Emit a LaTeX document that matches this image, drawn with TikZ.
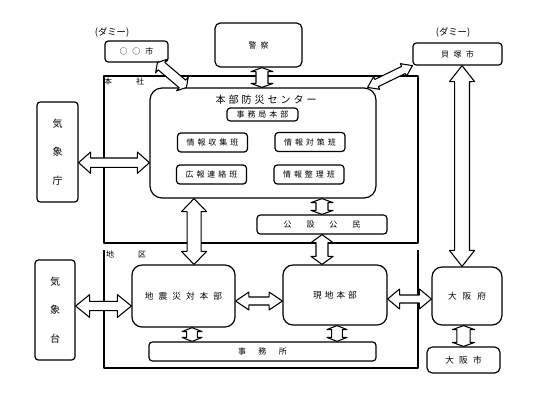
\documentclass[tikz,border=0pt]{standalone}
\usepackage{fontspec}
\setmainfont{Noto Sans CJK JP}
\usetikzlibrary{calc}

\newcommand{\sz}[2]{\fontsize{#1}{#1}\selectfont\addfontfeature{LetterSpace=#2}}
% hollow double arrow: from, to, shaft half width, head half width, head length (pt)
\newcommand{\fatarrow}[5]{%
    \coordinate (fa1) at (#1);
    \coordinate (fa2) at (#2);
    \draw[fatline] let \p1=($(fa2)-(fa1)$), \n1={atan2(\y1,\x1)}, \n2={veclen(\x1,\y1)} in
        [shift={(fa1)},rotate=\n1]
        (0pt,0pt) -- (#5pt,#4pt) -- (#5pt,#3pt) -- ({\n2-#5pt},#3pt) -- ({\n2-#5pt},#4pt)
        -- ({\n2-0pt},0pt) -- ({\n2-#5pt},-#4pt) -- ({\n2-#5pt},-#3pt) -- (#5pt,-#3pt)
        -- (#5pt,-#4pt) -- cycle;
}

\begin{document}
\begin{tikzpicture}[x=0.75pt,y=-0.75pt,line join=round]
    \tikzstyle{box}=[draw,fill=white,line width=0.9pt,rounded corners=2.5pt,inner sep=0pt]
    \tikzstyle{bigbox}=[box,rounded corners=7.5pt]
    \tikzstyle{frame}=[draw,line width=1.2pt]
    \tikzstyle{fatline}=[draw,fill=white,line width=0.8pt]
    \tikzset{wh/.style 2 args={minimum width=#1*0.75pt,minimum height=#2*0.75pt}}
    \useasboundingbox (0,0) rectangle (534,401);

    % frames
    \draw[frame] (104,76) rectangle (418,243);
    \draw[frame] (104,250) -- (104,368) -- (418,368) -- (418,250);
    \node[font=\sz{6}{0}] (honsha) at (124,81) {本\hspace{18pt}社};
    \node[font=\sz{6}{0}] (chiku) at (126,254) {地\hspace{18pt}区};

    % outside
    \node[font=\sz{7}{0}] (dummy1) at (112,32) {(ダミー)};
    \node[font=\sz{7}{0}] (dummy2) at (453,32) {(ダミー)};
    \node[box,wh={63}{21},font=\sz{6}{60}] (shi1) at (136.5,51.5) {○○市};
    \node[box,wh={87}{44},rounded corners=4pt,font=\sz{6}{50}] (keisatsu) at (258.5,45) {警察};
    \node[box,wh={89}{22},font=\sz{6}{55}] (shi2) at (457.5,54) {貝塚市};
    \node[box,wh={41}{100},align=center,font=\fontsize{7.5}{21.4}\selectfont] (kishocho) at (57.5,152) {気\\象\\庁};
    \node[box,wh={40}{100},align=center,font=\fontsize{7.5}{21.4}\selectfont] (kishodai) at (55,310) {気\\象\\台};

    % center
    \node[bigbox,wh={226}{110},rounded corners=9pt] (center) at (263,143) {};
    \node[font=\sz{7.5}{30}] (title) at (266,100) {本部防災センター};
    \node[box,wh={71}{13},font=\sz{6}{37}] (jimu) at (262.5,114.5) {事務局本部};
    \foreach \n/\x/\y/\t in {in1/212.5/142.5/情報収集班, in2/310/142/情報対策班,
                             in3/211.5/174.5/広報連絡班, in4/309/174.5/情報整理班} {
        \node[box,wh={70}{19},font=\sz{6}{37}] (\n) at (\x,\y) {\t};
    };
    \node[box,wh={130}{19},font=\sz{6}{187}] (tsushin) at (322,224.5) {公設公民};

    % lower
    \node[bigbox,wh={103}{62},font=\sz{6.5}{58}] (honbu) at (183.5,296) {地震災対本部};
    \node[bigbox,wh={104}{60},font=\sz{6.5}{35}] (genchi) at (335,295) {現地本部};
    \node[box,wh={227}{19},font=\sz{6}{156}] (jimusho) at (262.5,351.5) {事務所};
    \node[bigbox,wh={70}{58},font=\sz{6.5}{69}] (fu) at (467,296) {大阪府};
    \node[box,wh={73}{26},rounded corners=4pt,font=\sz{6.5}{60}] (shi3) at (463.5,360) {大阪市};

    % arrows
    \fatarrow{$(kishocho.east)+(0pt,-8pt)$}{$(kishocho.east -| center.west)+(0pt,-8pt)$}{3.5}{8}{9}
    \fatarrow{$(honbu.west -| kishodai.east)+(0pt,-7.5pt)$}{$(honbu.west)+(0pt,-7.5pt)$}{3.5}{8.5}{10.5}
    \fatarrow{$(honbu.east)+(0pt,-3.75pt)$}{$(honbu.east -| genchi.west)+(0pt,-3.75pt)$}{3}{6.75}{10}
    \fatarrow{$(genchi.east)+(0pt,-3pt)$}{$(genchi.east -| fu.west)+(0pt,-3pt)$}{3}{7.5}{9}
    \fatarrow{$(keisatsu.south)+(2.6pt,0pt)$}{$(keisatsu.south |- center.north)+(2.6pt,0pt)$}{4.5}{8.25}{3}
    \fatarrow{shi1.332}{center.144}{3.75}{6.75}{4}
    \fatarrow{shi2.south west}{center.28}{3}{5.25}{7.5}
    \fatarrow{$(shi2.south)+(3.4pt,0pt)$}{$(shi2.south |- fu.north)+(3.4pt,0pt)$}{5.6}{9.4}{12}
    \fatarrow{$(honbu.north |- center.south)+(7.9pt,0pt)$}{$(honbu.north)+(7.9pt,0pt)$}{5.25}{9.4}{9.75}
    \fatarrow{tsushin.north |- center.south}{tsushin.north}{4.5}{8.25}{3}
    \fatarrow{tsushin.south}{tsushin.south |- genchi.north}{4.5}{8.25}{6}
    \fatarrow{$(honbu.south)+(6.4pt,0pt)$}{$(honbu.south |- jimusho.north)+(6.4pt,0pt)$}{4}{7.5}{3}
    \fatarrow{$(genchi.south)+(1.5pt,0pt)$}{$(genchi.south |- jimusho.north)+(1.5pt,0pt)$}{4}{7.5}{3}
    \fatarrow{shi3.north |- fu.south}{shi3.north}{5}{8.25}{3}
\end{tikzpicture}
\end{document}
